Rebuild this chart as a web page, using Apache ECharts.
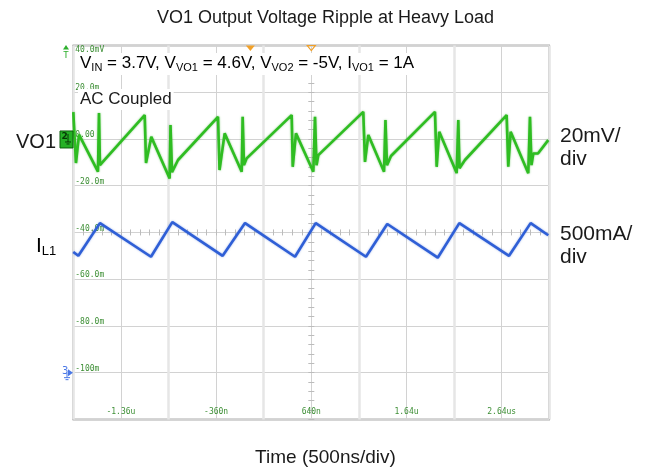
<!DOCTYPE html>
<html><head><meta charset="utf-8">
<script src="https://cdn.jsdelivr.net/npm/echarts@6/dist/echarts.min.js"></script>
<style>html,body{margin:0;padding:0;background:#fff}#c{width:651px;height:473px}</style>
</head><body><div id="c"></div>
<script>
// ---- data ----
const timeStartNs = -1860;          // left edge of the screen
const timeSpanNs = 5000;            // 10 div x 500 ns
const timeDivNs = 500;
const timeTickLabels = {"-1360":"-1.36u","-360":"-360n","640":"640n","1640":"1.64u","2640":"2.64us"};
const yTickLabels = {"20":"20.0m","0":"0.00","-20":"-20.0m","-40":"-40.0m","-60":"-60.0m","-80":"-80.0m","-100":"-100m"};
const yTopLabel = "40.0mV";
const screenMin = -120, screenMax = 40, screenDiv = 20;

// VO1 ripple (mV, AC coupled)
const vo1TimeNs = [-1860,-1842,-1832,-1800,-1601,-1590,-1580,-1548,-1110,-1096,-1041,-848,-839,-823,-760,-340,-324,-270,-91,-81,-67,-39,434,445,479,661,679,695,714,1186,1204,1239,1404,1419,1435,1477,1939,1957,1984,2167,2184,2197,2254,2692,2709,2734,2919,2937,2953,2972,3021,3129];
const vo1mV = [11.5,11.5,-10.3,1.9,-14.0,11.1,-11.2,-9.7,10.2,-10.3,0.9,-16.9,6.0,-14.2,-9.0,9.5,-13.3,2.4,-14.0,9.5,-11.2,-8.3,10.2,-11.9,2.4,-14.0,9.5,-11.2,-6.9,11.6,-9.8,1.7,-14.0,8.1,-11.2,-7.3,11.6,-11.9,3.1,-14.6,8.1,-12.5,-9.0,10.2,-11.9,3.1,-14.7,9.5,-11.2,-6.2,-6.2,-0.5];

// IL1 inductor current (A), channel 3 ground at -100 screen units, 500 mA/div
const il1TimeNs = [-1860,-1807,-1580,-1044,-820,-291,-56,469,686,1214,1438,1968,2195,2717,2944,3129];
const il1A = [1.29,1.25,1.60,1.24,1.61,1.25,1.60,1.24,1.60,1.24,1.59,1.23,1.60,1.25,1.60,1.47];
const ch2GroundScreen = 0;
const ch3GroundScreen = -100;
const ch3ScreenPerAmp = 40;   // 20 screen units per 500 mA
const triggerTimeNs = 0;
const centerTimeNs = 640;

// ---- chart ----
const chart = echarts.init(document.getElementById('c'), null, {renderer: 'canvas'});
const G = {left: 73.3, right: 101.7, top: 45.5, bottom: 53.6};
const plotW = 651 - G.left - G.right, plotH = 473 - G.top - G.bottom;
const tickGreen = '#3d8f35';
const lblFont = {fontFamily: 'DejaVu Sans Mono', fontSize: 8, color: tickGreen};

const vo1Data = vo1TimeNs.map((t, i) => [t - timeStartNs, vo1mV[i]]);
const il1Data = il1TimeNs.map((t, i) => [t - timeStartNs, ch3GroundScreen + il1A[i] * ch3ScreenPerAmp]);

const centerY = G.top + plotH * (screenMax - (screenMin + screenMax) / 2) / (screenMax - screenMin);
const centerX = G.left + plotW / 2;

chart.setOption({
  animation: false,
  backgroundColor: '#ffffff',
  grid: [
    Object.assign({show: true, borderColor: '#5a5a5a', borderWidth: 1.5, backgroundColor: '#fff'}, G),
    {left: G.left, right: G.right, top: centerY - 3, height: 6},
    {left: centerX - 3, width: 6, top: G.top, bottom: G.bottom}
  ],
  xAxis: [
    {gridIndex: 0, type: 'value', min: 0, max: timeSpanNs, interval: timeDivNs, position: 'bottom',
     axisLine: {show: false}, axisTick: {show: false},
     splitLine: {show: true, lineStyle: {color: '#d2d2d2', width: 1}},
     axisLabel: Object.assign({inside: true, margin: 3,
       formatter: v => timeTickLabels[String(v + timeStartNs)] || ''}, lblFont)},
    {gridIndex: 0, type: 'value', min: 0, max: timeSpanNs, interval: 2 * timeDivNs, z: 1,
     axisLine: {show: false}, axisTick: {show: false}, axisLabel: {show: false},
     splitLine: {show: true, lineStyle: {color: '#e6e6e6', width: 2.5}}},
    {gridIndex: 1, type: 'value', min: 0, max: timeSpanNs, interval: timeDivNs, position: 'bottom',
     axisLine: {show: false}, axisLabel: {show: false}, splitLine: {show: false},
     axisTick: {show: true, inside: true, length: 6, lineStyle: {color: '#bcbcbc'}},
     minorTick: {show: true, splitNumber: 5, length: 6, lineStyle: {color: '#bcbcbc'}}},
    {gridIndex: 2, type: 'value', show: false, min: 0, max: 1}
  ],
  yAxis: [
    {gridIndex: 0, type: 'value', min: screenMin, max: screenMax, interval: screenDiv, position: 'left',
     axisLine: {show: false}, axisTick: {show: false},
     splitLine: {show: true, lineStyle: {color: '#d2d2d2', width: 1}},
     axisLabel: Object.assign({inside: true, margin: 2, verticalAlign: 'bottom',
       formatter: v => yTickLabels[String(v)] || ''}, lblFont)},
    {gridIndex: 0, type: 'value', min: screenMin, max: screenMax, interval: screenDiv, position: 'left', offset: 0,
     axisLine: {show: false}, axisTick: {show: false}, splitLine: {show: false},
     axisLabel: Object.assign({inside: true, margin: 2, verticalAlign: 'top',
       formatter: v => (v === screenMax ? yTopLabel : '')}, lblFont)},
    {gridIndex: 1, type: 'value', show: false, min: 0, max: 1},
    {gridIndex: 2, type: 'value', min: screenMin, max: screenMax, interval: screenDiv, position: 'left',
     axisLine: {show: false}, axisLabel: {show: false}, splitLine: {show: false},
     axisTick: {show: true, inside: true, length: 6, lineStyle: {color: '#bcbcbc'}},
     minorTick: {show: true, splitNumber: 5, length: 6, lineStyle: {color: '#bcbcbc'}}}
  ],
  series: [
    {type: 'line', xAxisIndex: 0, yAxisIndex: 0, data: il1Data, showSymbol: false, z: 3,
     lineStyle: {color: '#2f5fd6', width: 2.6, shadowColor: 'rgba(47,95,214,0.5)', shadowBlur: 2}},
    {type: 'line', xAxisIndex: 0, yAxisIndex: 0, data: vo1Data, showSymbol: false, z: 4,
     lineStyle: {color: '#2fbd22', width: 2.6, shadowColor: 'rgba(40,170,30,0.6)', shadowBlur: 2}}
  ]
});

const px = t => chart.convertToPixel({xAxisIndex: 0}, t - timeStartNs);
const py = v => chart.convertToPixel({yAxisIndex: 0}, v);
const sans = '"Liberation Sans", Arial, sans-serif';
const yCh2 = py(ch2GroundScreen), yCh3 = py(ch3GroundScreen);
const xTrig = px(triggerTimeNs), xCtr = px(centerTimeNs);

chart.setOption({
  graphic: [
    {type: 'text', z: 100, style: {text: 'VO1 Output Voltage Ripple at Heavy Load', x: 325.5, y: 18,
      textAlign: 'center', textVerticalAlign: 'middle', font: '18px ' + sans, fill: '#1a1a1a'}},
    {type: 'text', z: 100, style: {
      text: '{m|V}{s|IN}{m| = 3.7V, V}{s|VO1}{m| = 4.6V, V}{s|VO2}{m| = -5V, I}{s|VO1}{m| = 1A}',
      x: 77, y: 64, textAlign: 'left', textVerticalAlign: 'middle', backgroundColor: '#fff', padding: [0, 3, 2, 3],
      rich: {m: {fontSize: 17, fontFamily: sans, lineHeight: 20, color: '#1a1a1a'},
             s: {fontSize: 11, fontFamily: sans, lineHeight: 10, verticalAlign: 'bottom', color: '#1a1a1a'}}}},
    {type: 'text', z: 100, style: {text: 'AC Coupled', x: 78, y: 99.5, textAlign: 'left', textVerticalAlign: 'middle',
      font: '17px ' + sans, fill: '#1a1a1a', backgroundColor: '#fff', padding: [2, 2, 2, 2]}},
    {type: 'text', z: 100, style: {text: 'VO1', x: 16, y: 142, textAlign: 'left', textVerticalAlign: 'middle',
      font: '20px ' + sans, fill: '#1a1a1a'}},
    {type: 'text', z: 100, style: {text: '{m|I}{s|L1}', x: 36, y: 246, textAlign: 'left', textVerticalAlign: 'middle',
      rich: {m: {fontSize: 21, fontFamily: sans, lineHeight: 24, color: '#1a1a1a'},
             s: {fontSize: 13, fontFamily: sans, lineHeight: 12, verticalAlign: 'bottom', color: '#1a1a1a'}}}},
    {type: 'text', z: 100, style: {text: '20mV/', x: 560, y: 136, textVerticalAlign: 'middle', font: '21px ' + sans, fill: '#1a1a1a'}},
    {type: 'text', z: 100, style: {text: 'div', x: 560, y: 159.5, textVerticalAlign: 'middle', font: '21px ' + sans, fill: '#1a1a1a'}},
    {type: 'text', z: 100, style: {text: '500mA/', x: 560, y: 234, textVerticalAlign: 'middle', font: '21px ' + sans, fill: '#1a1a1a'}},
    {type: 'text', z: 100, style: {text: 'div', x: 560, y: 257.5, textVerticalAlign: 'middle', font: '21px ' + sans, fill: '#1a1a1a'}},
    {type: 'text', z: 100, style: {text: 'Time (500ns/div)', x: 325.5, y: 458, textAlign: 'center', textVerticalAlign: 'middle',
      font: '19px ' + sans, fill: '#1a1a1a'}},
    // channel 2 ground marker
    {type: 'rect', z: 101, shape: {x: 60, y: yCh2 - 8, width: 13, height: 17}, style: {fill: '#25b025', stroke: '#0b5e0b', lineWidth: 1}},
    {type: 'text', z: 102, style: {text: '2', x: 61.5, y: yCh2 - 2, textVerticalAlign: 'middle', font: 'bold 9px "DejaVu Sans"', fill: '#063806'}},
    {type: 'polyline', z: 102, shape: {points: [[68, yCh2 - 5], [68, yCh2 + 3]]}, style: {stroke: '#063806', lineWidth: 1}},
    {type: 'polyline', z: 102, shape: {points: [[65, yCh2 + 3], [71, yCh2 + 3]]}, style: {stroke: '#063806', lineWidth: 1}},
    {type: 'polyline', z: 102, shape: {points: [[66.5, yCh2 + 5], [69.5, yCh2 + 5]]}, style: {stroke: '#063806', lineWidth: 1}},
    // channel 3 ground marker
    {type: 'text', z: 102, style: {text: '3', x: 62, y: yCh3 - 1, textVerticalAlign: 'middle', font: '10px "DejaVu Sans"', fill: '#4a78e6'}},
    {type: 'polygon', z: 102, shape: {points: [[68, yCh3 - 3.5], [73, yCh3], [68, yCh3 + 3.5]]}, style: {fill: '#4a78e6'}},
    {type: 'polyline', z: 102, shape: {points: [[67, yCh3], [67, yCh3 + 5]]}, style: {stroke: '#4a78e6', lineWidth: 1}},
    {type: 'polyline', z: 102, shape: {points: [[64, yCh3 + 5], [70, yCh3 + 5]]}, style: {stroke: '#4a78e6', lineWidth: 1}},
    {type: 'polyline', z: 102, shape: {points: [[65.5, yCh3 + 7], [68.5, yCh3 + 7]]}, style: {stroke: '#4a78e6', lineWidth: 1}},
    // trigger markers on top edge
    {type: 'polygon', z: 102, shape: {points: [[xTrig - 4.5, G.top], [xTrig + 4.5, G.top], [xTrig, G.top + 5.5]]}, style: {fill: '#f2a129'}},
    {type: 'polygon', z: 102, shape: {points: [[xCtr - 4, G.top], [xCtr + 4, G.top], [xCtr, G.top + 5]]}, style: {fill: 'none', stroke: '#f2a129', lineWidth: 1.2}},
    // trigger level marker (top-left)
    {type: 'polygon', z: 102, shape: {points: [[63, 49.5], [69, 49.5], [66, 45]]}, style: {fill: '#2fb02f'}},
    {type: 'text', z: 102, style: {text: 'T', x: 66, y: 56, textAlign: 'center', textVerticalAlign: 'middle', font: '9px "DejaVu Sans Mono"', fill: '#2fb02f'}}
  ]
});
</script>
</body></html>
